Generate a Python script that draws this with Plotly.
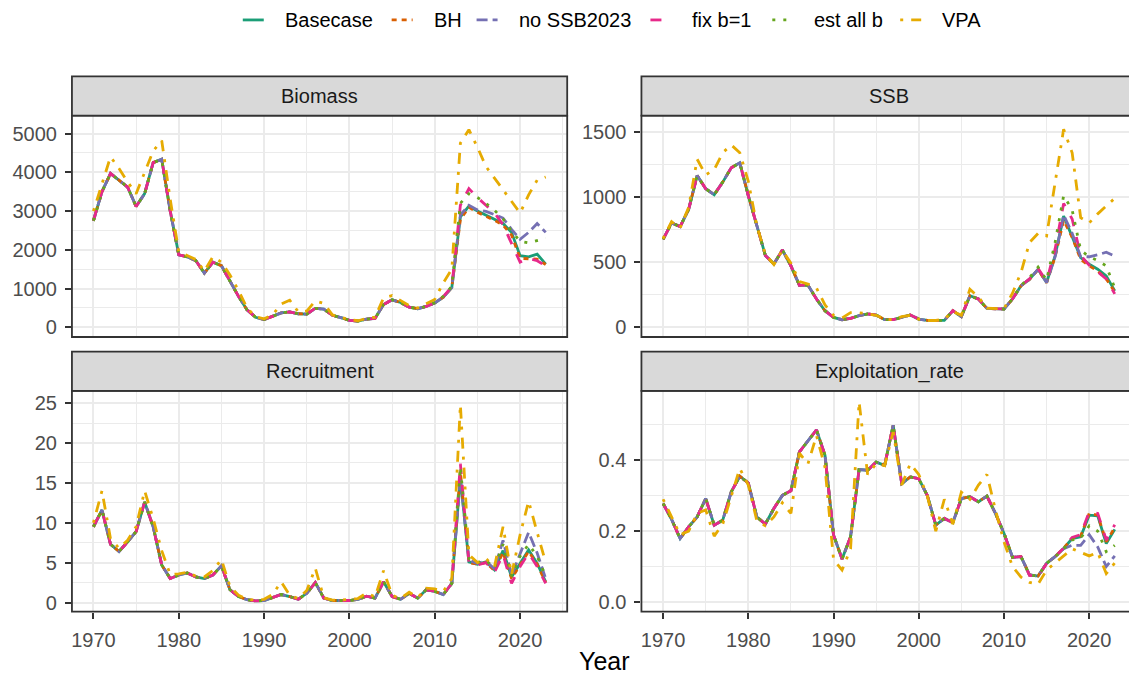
import plotly.graph_objects as go

YEARS = list(range(1970, 2024))

SERIES_NAMES = ["Basecase", "BH", "no SSB2023", "fix b=1", "est all b", "VPA"]
SERIES_COLORS = ["#1B9E77", "#D95F02", "#7570B3", "#E7298A", "#66A61E", "#E6AB02"]
SERIES_DASHES = ["solid", "5px,5px", "11px,5px", "11px,11px", "3px,8px", "3px,8px,11px,8px"]

PANELS = ["Biomass", "SSB", "Recruitment", "Exploitation_rate"]

# ---------------- Biomass ----------------
BIO_BASE = [2750, 3500, 3970, 3800, 3620, 3120, 3450, 4250, 4340, 3000,
            1870, 1820, 1720, 1400, 1680, 1590, 1180, 800, 450, 260,
            200, 280, 370, 400, 350, 340, 490, 470, 310, 250,
            180, 160, 210, 230, 590, 710, 640, 520, 480, 540,
            630, 780, 1030, 2850, 3130, 3000, 2900, 2790, 2680, 2450,
            1850, 1820, 1890, 1630]
BIO_BH = [2750, 3500, 3970, 3800, 3620, 3120, 3450, 4250, 4340, 3000,
          1870, 1820, 1720, 1400, 1680, 1590, 1180, 800, 450, 260,
          200, 280, 370, 400, 350, 340, 490, 470, 310, 250,
          180, 160, 210, 230, 590, 710, 640, 520, 480, 540,
          630, 780, 1030, 2780, 3100, 2970, 2870, 2760, 2640, 2380,
          1780, 1770, 1760, 1620]
BIO_NOSSB = [2750, 3500, 3970, 3800, 3620, 3120, 3450, 4250, 4340, 3000,
             1870, 1820, 1720, 1400, 1680, 1590, 1180, 800, 450, 260,
             200, 280, 370, 400, 350, 340, 490, 470, 310, 250,
             180, 160, 210, 230, 590, 710, 640, 520, 480, 540,
             630, 780, 1030, 2900, 3150, 3030, 2990, 2910, 2820, 2530,
             2270, 2450, 2680, 2450]
BIO_FIX = [2750, 3500, 3970, 3800, 3620, 3120, 3450, 4250, 4340, 3000,
           1870, 1820, 1720, 1400, 1680, 1590, 1180, 800, 450, 260,
           200, 280, 370, 400, 350, 340, 490, 470, 310, 250,
           180, 160, 210, 230, 590, 710, 640, 520, 480, 540,
           630, 790, 1050, 3150, 3580, 3350, 3150, 2950, 2650, 2150,
           1680, 1780, 1720, 1590]
BIO_EST = [2750, 3500, 3970, 3800, 3620, 3120, 3450, 4250, 4340, 3000,
           1870, 1820, 1720, 1400, 1680, 1590, 1180, 800, 450, 260,
           200, 280, 370, 400, 350, 340, 490, 470, 310, 250,
           180, 160, 210, 230, 590, 710, 640, 520, 480, 540,
           640, 800, 1060, 3200, 3450, 3350, 3200, 3020, 2800, 2480,
           2220, 2180, 2230, 2300]
BIO_VPA = [3000, 3700, 4400, 4100, 3750, 3450, 4000, 4550, 4820, 3300,
           1950, 1850, 1750, 1450, 1820, 1680, 1350, 950, 500, 270,
           220, 320, 600, 700, 400, 420, 680, 620, 320, 260,
           200, 170, 230, 260, 760, 820, 680, 560, 500, 600,
           720, 1150, 1500, 4750, 5100, 4650, 4150, 3850, 3550, 3220,
           2950, 3420, 3800, 3880]

# ---------------- SSB ----------------
SSB_BASE = [674, 800, 772, 904, 1165, 1063, 1017, 1114, 1224, 1262,
            1010, 770, 550, 485, 592, 470, 320, 322, 215, 125,
            74, 56, 66, 87, 100, 92, 56, 56, 74, 92,
            61, 51, 51, 51, 125, 79, 240, 215, 143, 138,
            138, 215, 317, 368, 444, 342, 547, 853, 700, 534,
            483, 444, 393, 278]
SSB_BH = [674, 800, 772, 904, 1165, 1063, 1017, 1114, 1224, 1262,
          1010, 770, 550, 485, 592, 470, 320, 322, 215, 125,
          74, 56, 66, 87, 100, 92, 56, 56, 74, 92,
          61, 51, 51, 51, 125, 79, 240, 215, 143, 138,
          138, 215, 317, 365, 440, 340, 540, 820, 690, 520,
          470, 430, 370, 270]
SSB_NOSSB = [674, 800, 772, 904, 1165, 1063, 1017, 1114, 1224, 1262,
             1010, 770, 550, 485, 592, 470, 320, 322, 215, 125,
             74, 56, 66, 87, 100, 92, 56, 56, 74, 92,
             61, 51, 51, 51, 125, 79, 240, 215, 143, 138,
             138, 215, 317, 368, 444, 342, 540, 860, 720, 540,
             540, 555, 575, 545]
SSB_FIX = [674, 800, 772, 904, 1165, 1063, 1017, 1114, 1224, 1262,
           1010, 770, 550, 485, 592, 470, 320, 322, 215, 125,
           74, 56, 66, 87, 100, 92, 56, 56, 74, 92,
           61, 51, 51, 51, 125, 79, 240, 215, 143, 138,
           138, 215, 317, 370, 450, 350, 600, 950, 830, 550,
           475, 425, 370, 255]
SSB_EST = [674, 800, 772, 904, 1165, 1063, 1017, 1114, 1224, 1262,
           1010, 770, 550, 485, 592, 470, 320, 322, 215, 125,
           74, 56, 66, 87, 100, 92, 56, 56, 74, 92,
           61, 51, 51, 51, 125, 79, 240, 215, 143, 138,
           138, 215, 320, 380, 460, 360, 650, 1010, 900, 590,
           540, 510, 470, 300]
SSB_VPA = [680, 810, 760, 920, 1290, 1170, 1210, 1340, 1400, 1340,
           1120, 780, 560, 480, 590, 490, 350, 330, 300, 170,
           90, 70, 110, 110, 100, 90, 60, 55, 80, 90,
           60, 50, 50, 60, 120, 90, 290, 230, 145, 145,
           140, 260, 420, 650, 720, 700, 1100, 1520, 1340, 840,
           800, 870, 930, 990]

# ---------------- Recruitment ----------------
REC_BASE = [9.5, 11.6, 7.3, 6.4, 7.6, 8.9, 12.6, 9.5, 4.7, 3.0,
            3.45, 3.7, 3.2, 3.0, 3.45, 4.6, 1.6, 0.75, 0.35, 0.2,
            0.25, 0.6, 1.0, 0.75, 0.4, 1.15, 2.5, 0.55, 0.25, 0.25,
            0.25, 0.4, 0.8, 0.55, 2.6, 0.75, 0.4, 1.15, 0.55, 1.6,
            1.4, 1.0, 2.4, 15.7, 5.1, 4.8, 5.1, 4.1, 6.5, 3.2,
            4.9, 6.6, 4.9, 2.6]
REC_BH = [9.5, 11.6, 7.3, 6.4, 7.6, 8.9, 12.6, 9.5, 4.7, 3.0,
          3.45, 3.7, 3.2, 3.0, 3.45, 4.6, 1.6, 0.75, 0.35, 0.2,
          0.25, 0.6, 1.0, 0.75, 0.4, 1.15, 2.5, 0.55, 0.25, 0.25,
          0.25, 0.4, 0.8, 0.55, 2.6, 0.75, 0.4, 1.15, 0.55, 1.6,
          1.4, 1.0, 2.4, 16.5, 5.0, 4.8, 5.0, 4.0, 6.3, 3.0,
          4.7, 6.4, 4.8, 2.5]
REC_NOSSB = [9.5, 11.6, 7.3, 6.4, 7.6, 8.9, 12.6, 9.5, 4.7, 3.0,
             3.45, 3.7, 3.2, 3.0, 3.45, 4.6, 1.6, 0.75, 0.35, 0.2,
             0.25, 0.6, 1.0, 0.75, 0.4, 1.15, 2.5, 0.55, 0.25, 0.25,
             0.25, 0.4, 0.8, 0.55, 2.6, 0.75, 0.4, 1.15, 0.55, 1.6,
             1.4, 1.0, 2.4, 15.5, 5.3, 4.9, 5.2, 4.2, 7.8, 3.4,
             6.0, 8.8, 6.2, 3.0]
REC_FIX = [9.5, 11.6, 7.3, 6.4, 7.6, 8.9, 12.6, 9.5, 4.7, 3.0,
           3.45, 3.7, 3.2, 3.0, 3.45, 4.6, 1.6, 0.75, 0.35, 0.2,
           0.25, 0.6, 1.0, 0.75, 0.4, 1.15, 2.5, 0.55, 0.25, 0.25,
           0.25, 0.4, 0.8, 0.55, 2.6, 0.75, 0.4, 1.15, 0.55, 1.6,
           1.4, 1.0, 2.4, 17.4, 5.0, 4.7, 5.0, 3.8, 6.0, 2.4,
           4.5, 6.2, 4.5, 2.4]
REC_EST = [9.5, 11.6, 7.3, 6.4, 7.6, 8.9, 12.6, 9.5, 4.7, 3.0,
           3.45, 3.7, 3.2, 3.0, 3.45, 4.6, 1.6, 0.75, 0.35, 0.2,
           0.25, 0.6, 1.0, 0.75, 0.4, 1.15, 2.5, 0.55, 0.25, 0.25,
           0.25, 0.4, 0.8, 0.55, 2.6, 0.75, 0.4, 1.15, 0.55, 1.6,
           1.4, 1.0, 2.4, 17.0, 5.5, 5.0, 5.3, 4.3, 7.3, 3.3,
           5.8, 7.3, 5.8, 3.3]
REC_VPA = [10.0, 14.0, 8.0, 6.8, 7.8, 9.5, 14.0, 10.5, 6.5, 3.5,
           3.6, 3.8, 3.3, 3.2, 4.0, 5.4, 2.0, 0.9, 0.4, 0.3,
           0.4, 1.0, 2.6, 0.9, 0.5, 1.5, 4.3, 0.6, 0.3, 0.3,
           0.4, 0.5, 1.2, 0.7, 4.0, 0.9, 0.5, 1.3, 0.6, 1.8,
           1.7, 1.4, 3.0, 24.8, 6.0, 5.0, 5.5, 4.5, 9.5, 3.5,
           8.5, 12.7, 8.8, 5.0]

# ---------------- Exploitation rate ----------------
EXP_BASE = [0.278, 0.233, 0.179, 0.212, 0.240, 0.292, 0.217, 0.231, 0.311, 0.355,
            0.336, 0.240, 0.220, 0.264, 0.301, 0.314, 0.424, 0.456, 0.486, 0.414,
            0.189, 0.121, 0.184, 0.374, 0.372, 0.395, 0.386, 0.499, 0.334, 0.353,
            0.348, 0.301, 0.217, 0.236, 0.224, 0.292, 0.297, 0.283, 0.299, 0.250,
            0.194, 0.126, 0.128, 0.076, 0.073, 0.109, 0.128, 0.151, 0.179, 0.184,
            0.245, 0.243, 0.165, 0.205]
EXP_BH = [0.278, 0.233, 0.179, 0.212, 0.240, 0.292, 0.217, 0.231, 0.311, 0.355,
          0.336, 0.240, 0.220, 0.264, 0.301, 0.314, 0.424, 0.456, 0.486, 0.414,
          0.189, 0.121, 0.184, 0.374, 0.372, 0.395, 0.386, 0.499, 0.334, 0.353,
          0.348, 0.301, 0.217, 0.236, 0.224, 0.292, 0.297, 0.283, 0.299, 0.250,
          0.194, 0.126, 0.128, 0.076, 0.073, 0.109, 0.128, 0.152, 0.180, 0.186,
          0.250, 0.245, 0.170, 0.210]
EXP_NOSSB = [0.278, 0.233, 0.179, 0.212, 0.240, 0.292, 0.217, 0.231, 0.311, 0.355,
             0.336, 0.240, 0.220, 0.264, 0.301, 0.314, 0.424, 0.456, 0.486, 0.414,
             0.189, 0.121, 0.184, 0.374, 0.372, 0.395, 0.386, 0.499, 0.334, 0.353,
             0.348, 0.301, 0.217, 0.236, 0.224, 0.292, 0.297, 0.283, 0.299, 0.250,
             0.194, 0.126, 0.128, 0.076, 0.073, 0.109, 0.128, 0.150, 0.160, 0.160,
             0.190, 0.155, 0.100, 0.130]
EXP_FIX = [0.278, 0.233, 0.179, 0.212, 0.240, 0.292, 0.217, 0.231, 0.311, 0.355,
           0.336, 0.240, 0.220, 0.264, 0.301, 0.314, 0.424, 0.456, 0.486, 0.414,
           0.189, 0.121, 0.184, 0.374, 0.372, 0.395, 0.386, 0.499, 0.334, 0.353,
           0.348, 0.301, 0.217, 0.236, 0.224, 0.292, 0.297, 0.283, 0.299, 0.250,
           0.194, 0.126, 0.128, 0.075, 0.072, 0.108, 0.128, 0.152, 0.182, 0.190,
           0.255, 0.250, 0.175, 0.218]
EXP_EST = [0.278, 0.233, 0.179, 0.212, 0.240, 0.292, 0.217, 0.231, 0.311, 0.355,
           0.336, 0.240, 0.220, 0.264, 0.301, 0.314, 0.424, 0.456, 0.486, 0.414,
           0.189, 0.121, 0.184, 0.374, 0.372, 0.395, 0.386, 0.499, 0.334, 0.353,
           0.348, 0.301, 0.217, 0.236, 0.224, 0.292, 0.297, 0.283, 0.299, 0.250,
           0.194, 0.126, 0.128, 0.076, 0.073, 0.109, 0.128, 0.150, 0.175, 0.180,
           0.215, 0.200, 0.142, 0.160]
EXP_VPA = [0.290, 0.240, 0.190, 0.200, 0.250, 0.260, 0.186, 0.220, 0.300, 0.377,
           0.330, 0.230, 0.215, 0.240, 0.280, 0.250, 0.420, 0.390, 0.470, 0.380,
           0.120, 0.090, 0.150, 0.565, 0.360, 0.390, 0.385, 0.480, 0.330, 0.390,
           0.360, 0.300, 0.200, 0.290, 0.220, 0.310, 0.290, 0.330, 0.360, 0.260,
           0.170, 0.100, 0.070, 0.055, 0.050, 0.090, 0.110, 0.130, 0.150, 0.140,
           0.130, 0.140, 0.080, 0.110]

PANEL_DATA = {
    "Biomass": [BIO_BASE, BIO_BH, BIO_NOSSB, BIO_FIX, BIO_EST, BIO_VPA],
    "SSB": [SSB_BASE, SSB_BH, SSB_NOSSB, SSB_FIX, SSB_EST, SSB_VPA],
    "Recruitment": [REC_BASE, REC_BH, REC_NOSSB, REC_FIX, REC_EST, REC_VPA],
    "Exploitation_rate": [EXP_BASE, EXP_BH, EXP_NOSSB, EXP_FIX, EXP_EST, EXP_VPA],
}

# y tick labels
BIO_TICKS = [0, 1000, 2000, 3000, 4000, 5000]
SSB_TICKS = [0, 500, 1000, 1500]
REC_TICKS = [0, 5, 10, 15, 20, 25]
EXP_TICKS = [0.0, 0.2, 0.4]
X_TICKS = [1970, 1980, 1990, 2000, 2010, 2020]

# ---------------- layout geometry (pixels) ----------------
W, H = 1129, 676
FONT = "Liberation Sans, Arial, Helvetica, sans-serif"
GRID = "#EBEBEB"
DARK = "#333333"


def px(x):
    return x / W


def py(y):
    return 1 - y / H


LEFT = (71, 566.7)
RIGHT = (641, 1137)
TOP = (116, 338)
BOT = (392, 613.5)
STRIP_H = 39.3

panel_geom = {
    "Biomass": (LEFT, TOP, [1967.48, 2025.52], [-250, 5463], BIO_TICKS, 500, False),
    "SSB": (RIGHT, TOP, [1967.46, 1967.46 + (W - 641) / 8.53], [-77, 1625], SSB_TICKS, 250, False),
    "Recruitment": (LEFT, BOT, [1967.48, 2025.52], [-1.15, 26.54], REC_TICKS, 2.5, True),
    "Exploitation_rate": (RIGHT, BOT, [1967.46, 1967.46 + (W - 641) / 8.53], [-0.0276, 0.5963], EXP_TICKS, 0.1, True),
}

fig = go.Figure()
layout = dict(
    width=W, height=H,
    margin=dict(l=0, r=0, t=0, b=0),
    paper_bgcolor="white", plot_bgcolor="white",
    showlegend=False,
    font=dict(family=FONT),
)
shapes = []
annotations = []

for i, panel in enumerate(PANELS):
    n = "" if i == 0 else str(i + 1)
    (xl, xr), (yt, yb), xr_rng, yr_rng, yticks, yminor, show_x = panel_geom[panel]
    xdom = [px(xl), min(1.0, px(xr))]
    ydom = [py(yb), py(yt)]
    for s, name in enumerate(SERIES_NAMES):
        fig.add_trace(go.Scatter(
            x=YEARS, y=PANEL_DATA[panel][s], mode="lines", name=name,
            line=dict(color=SERIES_COLORS[s], width=2.8, dash=SERIES_DASHES[s]),
            xaxis="x" + n, yaxis="y" + n, hoverinfo="skip", showlegend=False,
        ))
    if panel == "Exploitation_rate":
        ytext = ["%.1f" % v for v in yticks]
    else:
        ytext = [str(v) for v in yticks]
    layout["xaxis" + n] = dict(
        domain=xdom, range=xr_rng, anchor="y" + n,
        tickmode="array", tickvals=X_TICKS, ticktext=[str(v) for v in X_TICKS],
        showgrid=True, gridcolor=GRID, gridwidth=2.2,
        minor=dict(tickmode="linear", tick0=1965, dtick=5, showgrid=True,
                   gridcolor=GRID, gridwidth=1.1, ticks=""),
        zeroline=False, showline=False,
        ticks="outside" if show_x else "", ticklen=6, tickwidth=1.6, tickcolor=DARK,
        showticklabels=show_x, ticklabelstandoff=4,
        tickfont=dict(size=20, color="#4D4D4D", family=FONT),
        fixedrange=True,
    )
    layout["yaxis" + n] = dict(
        domain=ydom, range=yr_rng, anchor="x" + n,
        tickmode="array", tickvals=yticks, ticktext=ytext,
        showgrid=True, gridcolor=GRID, gridwidth=2.2,
        minor=dict(tickmode="linear", tick0=0, dtick=yminor, showgrid=True,
                   gridcolor=GRID, gridwidth=1.1, ticks=""),
        zeroline=False, showline=False,
        ticks="outside", ticklen=6, tickwidth=1.6, tickcolor=DARK,
        ticklabelstandoff=4,
        tickfont=dict(size=20, color="#4D4D4D", family=FONT),
        fixedrange=True,
    )
    # panel border
    shapes.append(dict(type="rect", xref="paper", yref="paper",
                       x0=px(xl), x1=px(xr), y0=py(yb), y1=py(yt),
                       line=dict(color=DARK, width=1.8), fillcolor="rgba(0,0,0,0)",
                       layer="above"))
    # strip
    shapes.append(dict(type="rect", xref="paper", yref="paper",
                       x0=px(xl), x1=px(xr), y0=py(yt), y1=py(yt - STRIP_H),
                       line=dict(color=DARK, width=1.8), fillcolor="#D9D9D9",
                       layer="above"))
    annotations.append(dict(text=panel, xref="paper", yref="paper",
                            x=px((xl + xr) / 2), y=py(yt - STRIP_H / 2),
                            xanchor="center", yanchor="middle", showarrow=False,
                            font=dict(size=20, color="#1A1A1A", family=FONT)))

# legend (top, horizontal)
LEGEND_TEXT_X = [282, 431, 516, 690, 812, 940]
LEGEND_Y = 20
for s, name in enumerate(SERIES_NAMES):
    tx = LEGEND_TEXT_X[s]
    shapes.append(dict(type="line", xref="paper", yref="paper",
                       x0=px(tx - 40), x1=px(tx - 19), y0=py(LEGEND_Y), y1=py(LEGEND_Y),
                       line=dict(color=SERIES_COLORS[s], width=2.8, dash=SERIES_DASHES[s])))
    annotations.append(dict(text=name, xref="paper", yref="paper",
                            x=px(tx), y=py(LEGEND_Y), xanchor="left", yanchor="middle",
                            showarrow=False,
                            font=dict(size=20, color="black", family=FONT)))

# x axis title
annotations.append(dict(text="Year", xref="paper", yref="paper",
                        x=px(604), y=py(663), xanchor="center", yanchor="middle",
                        showarrow=False, font=dict(size=25, color="black", family=FONT)))

layout["shapes"] = shapes
layout["annotations"] = annotations
fig.update_layout(**layout)
fig.write_html("out.html")
